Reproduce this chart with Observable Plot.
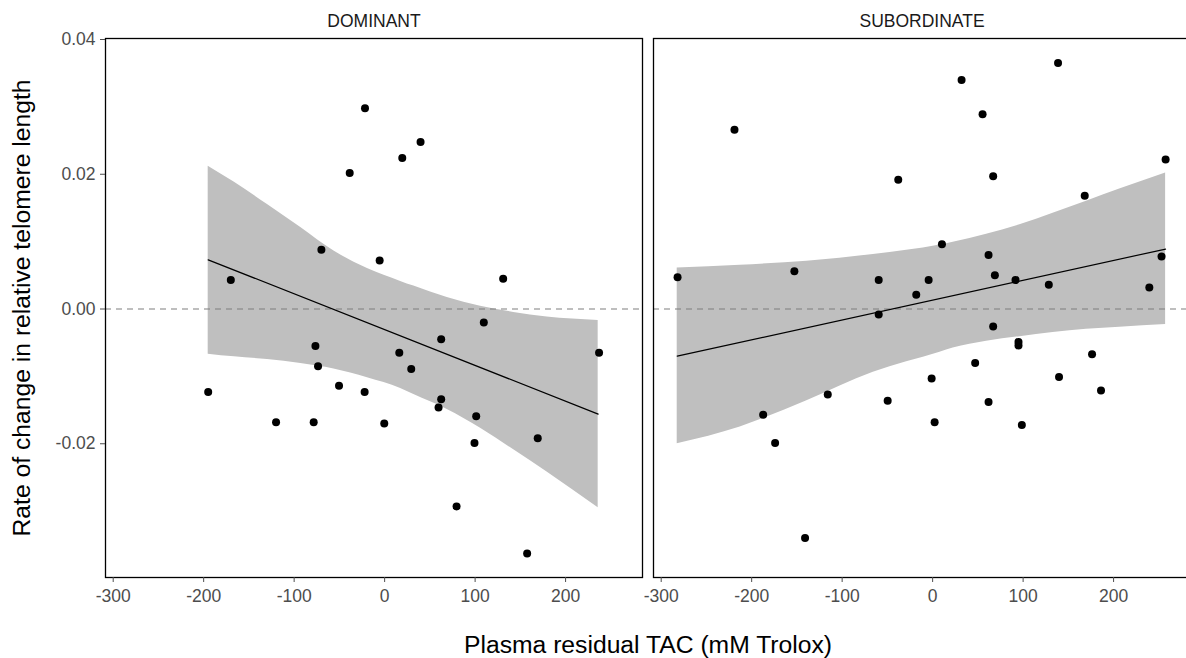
<!DOCTYPE html>
<html><head><meta charset="utf-8">
<script src="https://cdn.jsdelivr.net/npm/d3@7"></script>
<script src="https://cdn.jsdelivr.net/npm/@observablehq/plot@0.6"></script>
<style>html,body{margin:0;padding:0;overflow:hidden;background:#fff}</style>
</head><body><div id="chart"></div>
<script>
const panels = ["DOMINANT", "SUBORDINATE"];
// observed points
const domTAC  = [-170, -69.9, -21.7, -38.6, -5.5, 19.5, 39.7, 131, 109.6, -195, -76.5, -73.6, -50.4, -22.1, -120, -78.4, -0.4, 16.2, 62.5, 29.4, 62.5, 59.6, 101.2, 99.3, 169.2, 237, 79.5, 157.5];
const domRate = [0.0043, 0.0088, 0.0298, 0.0202, 0.0072, 0.0224, 0.0248, 0.0045, -0.0020, -0.0123, -0.0055, -0.0085, -0.0114, -0.0123, -0.0168, -0.0168, -0.0170, -0.0065, -0.0045, -0.0089, -0.0134, -0.0146, -0.0159, -0.0199, -0.0192, -0.0065, -0.0293, -0.0363];
const subTAC  = [-281.9, -219, -152.8, -38, -59.6, -4.4, -18.1, -59.6, 10.3, 32, 138.6, 55.2, 66.9, 168.1, 257.5, 61.8, 68.8, 91.6, 128.4, 239.5, 253, 66.9, -187.3, -174.1, -115.9, -49.7, -1.1, 2.2, -141, 47, 94.9, 94.9, 176.2, 61.8, 139.7, 186.1, 98.6];
const subRate = [0.0047, 0.0266, 0.0056, 0.0192, 0.0043, 0.0043, 0.0021, -0.0008, 0.0096, 0.0340, 0.0365, 0.0289, 0.0197, 0.0168, 0.0222, 0.0080, 0.0050, 0.0043, 0.0036, 0.0032, 0.0078, -0.0026, -0.0157, -0.0199, -0.0127, -0.0136, -0.0103, -0.0168, -0.0340, -0.0080, -0.0049, -0.0054, -0.0067, -0.0138, -0.0101, -0.0121, -0.0172];
// fitted lines (end points)
const domFitTAC  = [-195, 236];
const domFitRate = [0.0073, -0.0156];
const subFitTAC  = [-282.3, 257.5];
const subFitRate = [-0.0070, 0.0089];
// confidence bands
const domBandTAC = [-195, -166, -129.5, -92.7, -56, -19, 17.7, 32.3, 69.2, 106, 142.7, 179.5, 236];
const domBandHi  = [0.0212, 0.0188, 0.0155, 0.0121, 0.0086, 0.0060, 0.0041, 0.0034, 0.0017, 0.0004, -0.0005, -0.0012, -0.0017];
const domBandLo  = [-0.0067, -0.0071, -0.0075, -0.0081, -0.0089, -0.0102, -0.0118, -0.0127, -0.0149, -0.0177, -0.0209, -0.0242, -0.0295];
const subBandTAC = [-282.3, -212.7, -139, -65.6, 8.1, 22.7, 59.6, 96.4, 133.1, 170, 206.7, 257.5];
const subBandHi  = [0.0061, 0.0065, 0.0071, 0.0081, 0.0095, 0.0099, 0.0111, 0.0125, 0.0142, 0.0160, 0.0178, 0.0202];
const subBandLo  = [-0.0200, -0.0175, -0.0136, -0.0094, -0.0064, -0.0058, -0.0048, -0.0041, -0.0035, -0.0030, -0.0027, -0.0023];

const xTicks = [-300, -200, -100, 0, 100, 200];
const yTicks = [-0.02, 0, 0.02, 0.04];
const xTitle = "Plasma residual TAC (mM Trolox)";
const yTitle = "Rate of change in relative telomere length";

const pts = [
  ...domTAC.map((x, i) => ({panel: panels[0], x, y: domRate[i]})),
  ...subTAC.map((x, i) => ({panel: panels[1], x, y: subRate[i]}))
];
const fit = [
  ...domFitTAC.map((x, i) => ({panel: panels[0], x, y: domFitRate[i]})),
  ...subFitTAC.map((x, i) => ({panel: panels[1], x, y: subFitRate[i]}))
];
const band = [
  ...domBandTAC.map((x, i) => ({panel: panels[0], x, lo: domBandLo[i], hi: domBandHi[i]})),
  ...subBandTAC.map((x, i) => ({panel: panels[1], x, lo: subBandLo[i], hi: subBandHi[i]}))
];

const chart = Plot.plot({
  width: 1192, height: 658,
  marginLeft: 105, marginRight: 1, marginTop: 38, marginBottom: 81,
  style: {fontFamily: "'Liberation Sans', Arial, sans-serif", background: "#fff", overflow: "visible", maxWidth: "none"},
  fx: {domain: panels, paddingInner: 0.01933, paddingOuter: 0},
  x: {domain: [-308.5, 285]},
  y: {domain: [-0.03985, 0.04015]},
  marks: [
    Plot.areaY(band, {x: "x", y1: "lo", y2: "hi", fx: "panel", z: "panel", fill: "#bfbfbf", curve: "monotone-x"}),
    Plot.ruleY([0], {stroke: "#7f7f7f", strokeWidth: 1.2, strokeDasharray: "6,5"}),
    Plot.line(fit, {x: "x", y: "y", fx: "panel", z: "panel", stroke: "black", strokeWidth: 1.2}),
    Plot.dot(pts, {x: "x", y: "y", fx: "panel", r: 4, fill: "black", stroke: "none"}),
    Plot.frame({stroke: "black", strokeWidth: 1.3}),
    Plot.axisFx({anchor: "top", label: null, tickSize: 0, tickPadding: 12, fontSize: 17.5, color: "#1a1a1a"}),
    Plot.axisX({ticks: xTicks, tickFormat: d => String(d), tickSize: 5, tickPadding: 7, fontSize: 17.5, color: "#4d4d4d", label: null}),
    Plot.axisX({ticks: [], label: xTitle, labelAnchor: "center", labelArrow: "none", labelOffset: 75, fontSize: 24.7, color: "black"}),
    Plot.axisY({ticks: yTicks, tickFormat: d => d.toFixed(2), tickSize: 5, tickPadding: 5, fontSize: 17.5, color: "#4d4d4d", label: null}),
    Plot.axisY({ticks: [], label: yTitle, labelAnchor: "center", labelArrow: "none", labelOffset: 93, fontSize: 24.7, color: "black"})
  ]
});
document.getElementById("chart").appendChild(chart);
</script>
</body></html>
